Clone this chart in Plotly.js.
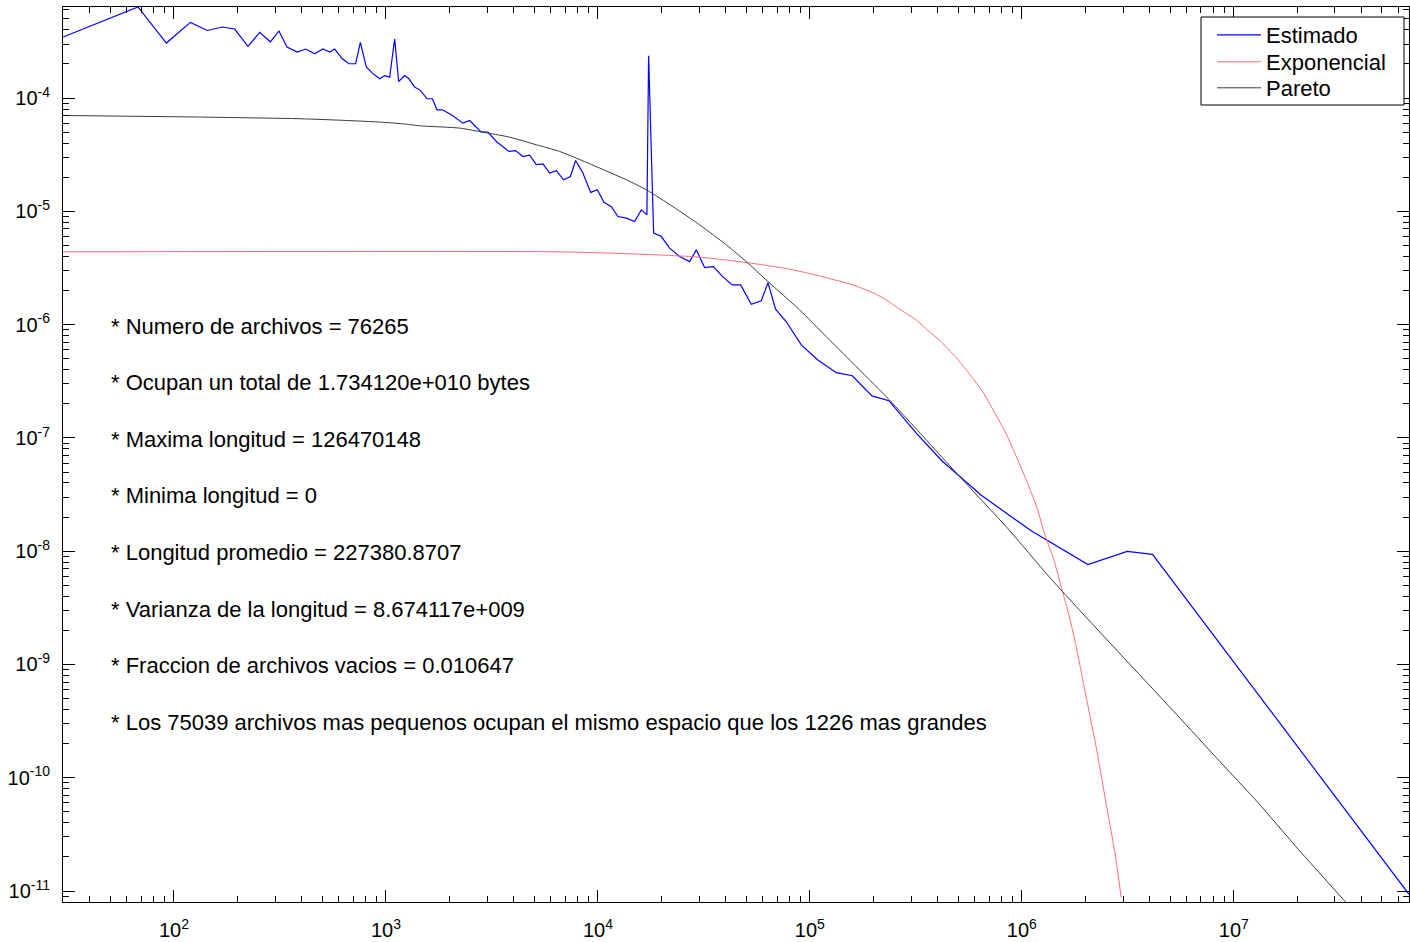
<!DOCTYPE html>
<html>
<head>
<meta charset="utf-8">
<script src="https://cdn.plot.ly/plotly-3.0.1.min.js"></script>
<style>html,body{margin:0;padding:0;background:#fff;}#chart{width:1410px;height:942px;}</style>
</head>
<body>
<div id="chart"></div>
<script>
// ---- Data ----
const seriesNames = ['Estimado', 'Exponencial', 'Pareto'];

const estimadoX = [30, 67.6, 92.1, 119.5, 143.7, 169.2, 193.3, 223.4, 253.7, 284.9, 312.8, 341.2, 381.9, 418.1, 461.1, 504.4, 542.6, 572.8, 622.8, 669.2, 719.5, 757.2, 808, 862.6, 933.9, 986, 1041, 1099, 1148, 1225, 1284, 1366, 1453, 1561, 1656, 1740, 1845, 2034, 2307, 2482, 2818, 3028, 3318, 3564, 3804, 4091, 4428, 4763, 5123, 5504, 5919, 6364, 6890, 7412, 7848, 8495, 9239, 9935, 10674, 11568, 12428, 13614, 14897, 16022, 17025, 17345, 18314, 19911, 21787, 24290, 27066, 29120, 31869, 35025, 38746, 43051, 47100, 52920, 58980, 63390, 68890, 77390, 91080, 109070, 133210, 158490, 196150, 235860, 317620, 420420, 641500, 1111000, 2050000, 3139000, 4134000, 67060000];
const estimadoY = [3.46e-4, 6.37e-4, 3.06e-4, 4.66e-4, 3.95e-4, 4.24e-4, 4.07e-4, 2.86e-4, 3.80e-4, 3.14e-4, 3.91e-4, 2.82e-4, 2.55e-4, 2.71e-4, 2.46e-4, 2.71e-4, 2.55e-4, 2.71e-4, 2.22e-4, 2.01e-4, 2.01e-4, 3.10e-4, 1.88e-4, 1.66e-4, 1.48e-4, 1.58e-4, 1.53e-4, 3.32e-4, 1.40e-4, 1.58e-4, 1.48e-4, 1.25e-4, 1.17e-4, 9.86e-5, 9.86e-5, 7.88e-5, 7.88e-5, 7.12e-5, 6.01e-5, 6.34e-5, 5.01e-5, 5.01e-5, 4.14e-5, 3.69e-5, 3.38e-5, 3.44e-5, 3.05e-5, 3.14e-5, 2.59e-5, 2.63e-5, 2.18e-5, 2.29e-5, 1.90e-5, 2.03e-5, 2.81e-5, 2.18e-5, 1.47e-5, 1.55e-5, 1.20e-5, 1.10e-5, 9.0e-6, 8.71e-6, 8.13e-6, 1.03e-5, 9.31e-6, 2.36e-4, 6.42e-6, 5.99e-6, 4.73e-6, 4.0e-6, 3.60e-6, 4.57e-6, 3.19e-6, 3.25e-6, 2.65e-6, 2.24e-6, 2.24e-6, 1.51e-6, 1.62e-6, 2.35e-6, 1.37e-6, 1.06e-6, 6.62e-7, 4.88e-7, 3.77e-7, 3.54e-7, 2.35e-7, 2.13e-7, 1.10e-7, 6.25e-8, 3.13e-8, 1.505e-8, 7.61e-9, 9.96e-9, 9.37e-9, 9.35e-12];

const exponencialX = [30, 6597, 15726, 28060, 37510, 55000, 80230, 110000, 159500, 200000, 229300, 270000, 317600, 360000, 409100, 490600, 570000, 654600, 740000, 828600, 950000, 1071000, 1180000, 1287000, 1410000, 1546000, 1670000, 1792000, 1998000, 2232000, 2493000, 2782000, 2941000];
const exponencialY = [4.39e-6, 4.39e-6, 4.19e-6, 3.98e-6, 3.78e-6, 3.45e-6, 3.09e-6, 2.70e-6, 2.24e-6, 1.90e-6, 1.65e-6, 1.34e-6, 1.10e-6, 8.9e-7, 7.28e-7, 5.1e-7, 3.6e-7, 2.55e-7, 1.70e-7, 1.16e-7, 6.6e-8, 3.86e-8, 2.4e-8, 1.38e-8, 8.6e-9, 4.58e-9, 2.7e-9, 1.53e-9, 5.47e-10, 1.94e-10, 6.04e-11, 1.88e-11, 8.8e-12];

const paretoX = [30, 130.8, 391.6, 652.5, 933.9, 1199, 1442, 2227, 3028, 3833, 5123, 6597, 7908, 10186, 13614, 16920, 22590, 30180, 40340, 50120, 63390, 89410, 119500, 159500, 229300, 307700, 533900, 859900, 1336000, 1927000, 3221000, 5384000, 8357000, 12990000, 20200000, 33650000];
const paretoY = [7.02e-5, 6.80e-5, 6.57e-5, 6.34e-5, 6.14e-5, 5.93e-5, 5.69e-5, 5.43e-5, 4.91e-5, 4.52e-5, 3.87e-5, 3.38e-5, 2.95e-5, 2.41e-5, 1.90e-5, 1.55e-5, 1.10e-5, 7.60e-6, 5.06e-6, 3.60e-6, 2.40e-6, 1.35e-6, 7.83e-7, 4.56e-7, 2.31e-7, 1.28e-7, 4.13e-8, 1.58e-8, 6.03e-9, 2.84e-9, 1.01e-9, 3.60e-10, 1.47e-10, 6.04e-11, 2.32e-11, 8.0e-12];

const xTickVals = [1e2, 1e3, 1e4, 1e5, 1e6, 1e7];
const xTickText = ['10<sup>2</sup>', '10<sup>3</sup>', '10<sup>4</sup>', '10<sup>5</sup>', '10<sup>6</sup>', '10<sup>7</sup>'];
const yTickVals = [1e-11, 1e-10, 1e-9, 1e-8, 1e-7, 1e-6, 1e-5, 1e-4];
const yTickText = ['10<sup>-11</sup>', '10<sup>-10</sup>', '10<sup>-9</sup>', '10<sup>-8</sup>', '10<sup>-7</sup>', '10<sup>-6</sup>', '10<sup>-5</sup>', '10<sup>-4</sup>'];

const infoLines = [
  '* Numero de archivos = 76265',
  '* Ocupan un total de 1.734120e+010 bytes',
  '* Maxima longitud = 126470148',
  '* Minima longitud = 0',
  '* Longitud promedio = 227380.8707',
  '* Varianza de la longitud = 8.674117e+009',
  '* Fraccion de archivos vacios = 0.010647',
  '* Los 75039 archivos mas pequenos ocupan el mismo espacio que los 1226 mas grandes'
];

// ---- Layout helpers (pixels of the 1410x942 page) ----
const W = 1410, H = 942;
const M = {l: 63, r: 1, t: 7, b: 40};
const plotW = W - M.l - M.r, plotH = H - M.t - M.b;
const px2paperX = p => (p - M.l) / plotW;
const px2paperY = p => (H - M.b - p) / plotH;
const FONT = '"Liberation Sans", Arial, Helvetica, sans-serif';

const traces = [
  {x: estimadoX, y: estimadoY, name: seriesNames[0], type: 'scatter', mode: 'lines',
   line: {color: '#0000ff', width: 1.2}, legend: 'legend'},
  {x: exponencialX, y: exponencialY, name: seriesNames[1], type: 'scatter', mode: 'lines',
   line: {color: 'rgb(255,110,110)', width: 1, shape: 'spline', smoothing: 0.6}, legend: 'legend2'},
  {x: paretoX, y: paretoY, name: seriesNames[2], type: 'scatter', mode: 'lines',
   line: {color: 'rgb(60,60,60)', width: 1, shape: 'spline', smoothing: 0.6}, legend: 'legend3'}
];

const axisCommon = {
  type: 'log', showgrid: false, zeroline: false,
  showline: true, linecolor: '#000', linewidth: 1, mirror: 'ticks',
  ticks: 'inside', ticklen: 12, tickwidth: 1, tickcolor: '#000',
  tickmode: 'array',
  tickfont: {family: FONT, size: 20, color: '#000'},
  minor: {ticks: 'inside', ticklen: 6, tickwidth: 1, tickcolor: '#000', tickmode: 'linear', dtick: 'D1', showgrid: false}
};

const legendBase = top => ({
  x: px2paperX(1212), xanchor: 'left', y: px2paperY(top), yanchor: 'top',
  bgcolor: 'rgba(0,0,0,0)', borderwidth: 0,
  font: {family: FONT, size: 22, color: '#000'},
  itemwidth: 44, tracegroupgap: 0
});

const layout = {
  width: W, height: H,
  margin: {l: M.l, r: M.r, t: M.t, b: M.b, pad: 0},
  paper_bgcolor: '#fff', plot_bgcolor: '#fff',
  font: {family: FONT, size: 20, color: '#000'},
  xaxis: Object.assign({}, axisCommon, {range: [1.4764, 7.8264], tickvals: xTickVals, ticktext: xTickText, ticklabelstandoff: 10}),
  yaxis: Object.assign({}, axisCommon, {range: [-11.097, -3.196], tickvals: yTickVals, ticktext: yTickText, ticklabelstandoff: 8}),
  showlegend: true,
  legend: legendBase(14),
  legend2: legendBase(41),
  legend3: legendBase(67),
  shapes: [{
    type: 'rect', xref: 'paper', yref: 'paper', layer: 'above',
    x0: px2paperX(1201), x1: px2paperX(1404), y0: px2paperY(105), y1: px2paperY(17),
    line: {color: '#000', width: 1}, fillcolor: '#fff'
  }],
  annotations: infoLines.map((t, i) => ({
    text: t, xref: 'paper', yref: 'paper',
    x: px2paperX(109), xanchor: 'left',
    y: px2paperY(326 + i * 56.6), yanchor: 'middle',
    showarrow: false, font: {family: FONT, size: 22, color: '#000'}
  }))
};

Plotly.newPlot('chart', traces, layout, {displayModeBar: false, staticPlot: true});
</script>
</body>
</html>
